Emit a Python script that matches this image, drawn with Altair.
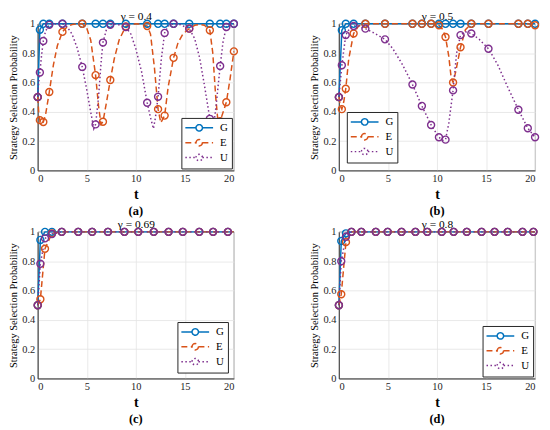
import altair as alt
import pandas as pd

SERIES = ["G", "E", "U"]
COLORS = ["#0072BD", "#D95319", "#7E2F8E"]
DASHES = [[1, 0], [6, 3.5], [1.5, 2.5]]
X_TICKS = [0, 5, 10, 15, 20]
Y_TICKS = [0, 0.2, 0.4, 0.6, 0.8, 1.0]
FONT = "Liberation Serif"

# ---------------- panel (a): gamma = 0.4 ----------------
a_mark_t = [0, 0.22, 0.57, 1.18, 2.52, 4.54, 5.9, 6.65, 7.4, 8.98, 11.16, 12.27, 12.94, 13.85, 15.45, 17.55, 18.6, 19.23, 20]
a_mark_G = [0.5, 0.96, 1.0, 1.0, 1.0, 1.0, 1.0, 1.0, 1.0, 1.0, 1.0, 1.0, 1.0, 1.0, 1.0, 1.0, 1.0, 1.0, 1.0]
a_mark_E = [0.5, 0.343, 0.33, 0.535, 0.945, 1.0, 0.65, 0.332, 0.617, 0.982, 0.985, 0.418, 0.374, 0.768, 0.967, 0.956, 0.336, 0.465, 0.812]
a_mark_U = [0.5, 0.668, 0.883, 0.993, 1.0, 0.706, 0.314, 0.872, 0.993, 0.978, 0.462, 0.502, 0.938, 1.0, 0.967, 0.352, 0.712, 0.978, 1.0]

a_G_t = [0, 0.22, 0.57, 20]
a_G = [0.5, 0.96, 1.0, 1.0]
a_E_t = [0, 0.1, 0.22, 0.4, 0.57, 0.8, 1.18, 1.6, 2.0, 2.52, 3.0, 3.5, 4.0, 4.54, 5.0, 5.4, 5.9, 6.2, 6.45, 6.65,
         7.0, 7.4, 7.8, 8.3, 8.98, 9.5, 10.0, 10.5, 11.16, 11.5, 11.9, 12.27, 12.55, 12.94, 13.3, 13.85, 14.3, 14.8,
         15.45, 16.0, 16.5, 17.0, 17.55, 17.85, 18.15, 18.4, 18.6, 19.23, 19.6, 20]
a_E = [0.5, 0.40, 0.343, 0.32, 0.33, 0.38, 0.535, 0.72, 0.85, 0.945, 0.98, 0.995, 1.0, 1.0, 0.97, 0.89, 0.65, 0.44,
       0.315, 0.332, 0.46, 0.617, 0.76, 0.89, 0.982, 0.995, 1.0, 0.998, 0.985, 0.93, 0.7, 0.418, 0.325, 0.374, 0.57,
       0.768, 0.87, 0.93, 0.967, 0.99, 0.995, 0.99, 0.956, 0.8, 0.5, 0.315, 0.336, 0.465, 0.62, 0.812]
a_U_t = [0, 0.1, 0.22, 0.4, 0.57, 0.8, 1.18, 1.8, 2.52, 3.0, 3.5, 4.0, 4.54, 5.0, 5.4, 5.72, 5.9, 6.2, 6.45, 6.65,
         7.0, 7.4, 8.0, 8.98, 9.5, 10.0, 10.6, 11.16, 11.5, 11.8, 12.0, 12.27, 12.6, 12.94, 13.3, 13.85, 14.5, 15.45,
         16.0, 16.5, 17.0, 17.55, 17.9, 18.2, 18.6, 18.9, 19.23, 19.6, 20]
a_U = [0.5, 0.6, 0.668, 0.79, 0.883, 0.95, 0.993, 1.0, 1.0, 0.98, 0.93, 0.84, 0.706, 0.55, 0.40, 0.285, 0.314, 0.5,
       0.73, 0.872, 0.96, 0.993, 1.0, 0.978, 0.93, 0.83, 0.67, 0.462, 0.36, 0.285, 0.36, 0.502, 0.76, 0.938, 0.985,
       1.0, 0.995, 0.967, 0.9, 0.77, 0.58, 0.352, 0.28, 0.45, 0.712, 0.88, 0.978, 0.995, 1.0]

# ---------------- panel (b): gamma = 0.5 ----------------
b_mark_t = [0, 0.3, 0.7, 1.5, 2.7, 4.7, 7.5, 8.46, 9.4, 10.2, 10.87, 11.64, 12.4, 13.5, 15.25, 18.3, 19.26, 20]
b_mark_G = [0.5, 0.956, 1.0, 1.0, 1.0, 1.0, 1.0, 1.0, 1.0, 1.0, 1.0, 1.0, 1.0, 1.0, 1.0, 1.0, 1.0, 1.0]
b_mark_E = [0.5, 0.418, 0.557, 0.934, 1.0, 1.0, 1.0, 1.0, 1.0, 0.99, 0.91, 0.60, 0.84, 1.0, 1.0, 1.0, 1.0, 0.99]
b_mark_U = [0.5, 0.717, 0.923, 0.985, 0.967, 0.894, 0.586, 0.44, 0.31, 0.226, 0.21, 0.546, 0.923, 0.934, 0.83, 0.414, 0.288, 0.226]

b_G_t = [0, 0.3, 0.7, 20]
b_G = [0.5, 0.956, 1.0, 1.0]
b_E_t = [0, 0.15, 0.3, 0.5, 0.7, 1.0, 1.5, 2.0, 2.7, 10.0, 10.2, 10.6, 10.87, 11.2, 11.45, 11.64, 11.9, 12.4, 12.9, 13.5, 19.26, 20]
b_E = [0.5, 0.44, 0.418, 0.47, 0.557, 0.76, 0.934, 0.985, 1.0, 1.0, 0.99, 0.96, 0.91, 0.78, 0.63, 0.60, 0.67, 0.84, 0.96, 1.0, 1.0, 0.99]
b_U_t = [0, 0.3, 0.7, 1.1, 1.5, 2.0, 2.7, 3.5, 4.7, 5.5, 6.5, 7.5, 8.46, 9.4, 10.2, 10.6, 10.87, 11.2, 11.64, 12.0,
         12.4, 12.9, 13.5, 14.3, 15.25, 16.2, 17.2, 18.3, 19.26, 20]
b_U = [0.5, 0.717, 0.923, 0.97, 0.985, 0.985, 0.967, 0.94, 0.894, 0.83, 0.72, 0.586, 0.44, 0.31, 0.226, 0.205, 0.21,
       0.32, 0.546, 0.8, 0.923, 0.945, 0.934, 0.895, 0.83, 0.72, 0.57, 0.414, 0.288, 0.226]

# ---------------- panel (c): gamma = 0.69 ----------------
c_mark_t = [0, 0.27, 0.74, 1.45, 2.45, 4.13, 5.55, 7.16, 8.84, 10.25, 11.83, 13.34, 14.79, 16.47, 17.88, 19.39]
c_mark_G = [0.5, 0.945, 1.0, 1.0, 1.0, 1.0, 1.0, 1.0, 1.0, 1.0, 1.0, 1.0, 1.0, 1.0, 1.0, 1.0]
c_mark_E = [0.5, 0.54, 0.885, 0.99, 1.0, 1.0, 1.0, 1.0, 1.0, 1.0, 1.0, 1.0, 1.0, 1.0, 1.0, 1.0]
c_mark_U = [0.5, 0.783, 0.956, 0.985, 1.0, 1.0, 1.0, 1.0, 1.0, 1.0, 1.0, 1.0, 1.0, 1.0, 1.0, 1.0]

c_G_t = [0, 0.27, 0.74, 1.45, 20]
c_G = [0.5, 0.945, 1.0, 1.0, 1.0]
c_E_t = [0, 0.27, 0.74, 1.45, 2.45, 20]
c_E = [0.5, 0.54, 0.885, 0.99, 1.0, 1.0]
c_U_t = [0, 0.27, 0.74, 1.45, 2.45, 20]
c_U = [0.5, 0.783, 0.956, 0.985, 1.0, 1.0]

# ---------------- panel (d): gamma = 0.8 ----------------
d_mark_t = [0, 0.24, 0.72, 1.28, 2.29, 3.76, 4.97, 6.39, 7.8, 9.01, 10.49, 11.7, 13.04, 14.55, 15.87, 17.21, 18.72, 19.83]
d_mark_G = [0.5, 0.938, 0.99, 1.0, 1.0, 1.0, 1.0, 1.0, 1.0, 1.0, 1.0, 1.0, 1.0, 1.0, 1.0, 1.0, 1.0, 1.0]
d_mark_E = [0.5, 0.575, 0.93, 1.0, 1.0, 1.0, 1.0, 1.0, 1.0, 1.0, 1.0, 1.0, 1.0, 1.0, 1.0, 1.0, 1.0, 1.0]
d_mark_U = [0.5, 0.80, 0.967, 1.0, 1.0, 1.0, 1.0, 1.0, 1.0, 1.0, 1.0, 1.0, 1.0, 1.0, 1.0, 1.0, 1.0, 1.0]

d_G_t = [0, 0.24, 0.72, 1.28, 20]
d_G = [0.5, 0.938, 0.99, 1.0, 1.0]
d_E_t = [0, 0.24, 0.72, 1.28, 20]
d_E = [0.5, 0.575, 0.93, 1.0, 1.0]
d_U_t = [0, 0.24, 0.72, 1.28, 20]
d_U = [0.5, 0.80, 0.967, 1.0, 1.0]

W, H = 198, 148
# legend glyph: a hollow circle marker with a short line through it
SYM = "M-0.65,0A0.65,0.65,0,1,1,0.65,0A0.65,0.65,0,1,1,-0.65,0ZM-2.8,0L-0.65,0M0.65,0L2.8,0"


def lines_df(parts):
    rows = []
    for s, ts, ps in parts:
        for t, p in zip(ts, ps):
            rows.append({"s": s, "t": t, "p": p})
    return pd.DataFrame(rows)


def marks_df(ts, g, e, u):
    return lines_df([("G", ts, g), ("E", ts, e), ("U", ts, u)])


def panel(ldf, mdf, gamma, tag, orient, offset):
    leg = alt.Legend(title=None, orient=orient, offset=offset, symbolType=SYM, symbolSize=100,
                     symbolStrokeWidth=1.5, symbolFillColor="transparent", symbolOffset=8, labelOffset=15,
                     labelFont=FONT, labelFontSize=11, labelColor="#000000", rowPadding=1,
                     padding=4, strokeColor="#262626", fillColor="white", cornerRadius=0)
    cscale = alt.Scale(domain=SERIES, range=COLORS)
    xscale = alt.Scale(domain=[0, 20], nice=False)
    x_bottom = alt.X("t:Q", scale=xscale,
                     axis=alt.Axis(values=X_TICKS, title="t", titleFontWeight="bold", titleFontSize=14,
                                   titlePadding=4, labelPadding=3))
    x_top = alt.X("t:Q", scale=xscale,
                  axis=alt.Axis(orient="top", title=gamma, labels=False, ticks=False, domain=False, grid=False,
                                titleFontWeight="normal", titleFontSize=11.5, titlePadding=2))
    y = alt.Y("p:Q", scale=alt.Scale(domain=[0, 1], nice=False),
              axis=alt.Axis(values=Y_TICKS, format="~g", title="Strategy Selection Probability",
                            titleFontWeight="normal", titleFontSize=10.5, titlePadding=3, labelPadding=3))
    ln = alt.Chart(ldf).mark_line(strokeWidth=1.5).encode(
        x=x_bottom, y=y,
        color=alt.Color("s:N", scale=cscale, legend=leg),
        strokeDash=alt.StrokeDash("s:N", scale=alt.Scale(domain=SERIES, range=DASHES), legend=leg),
        order=alt.Order("t:Q"),
    )
    pt = alt.Chart(mdf).mark_point(shape="circle", filled=False, size=50, strokeWidth=1.4, opacity=1).encode(
        x=x_top, y=y, color=alt.Color("s:N", scale=cscale, legend=leg)
    )
    return alt.layer(ln, pt).resolve_axis(x="independent").properties(
        width=W, height=H,
        title=alt.TitleParams(tag, orient="bottom", font=FONT, fontSize=12.5, fontWeight="bold", offset=3,
                              color="#000000"),
    )


pa = panel(lines_df([("G", a_G_t, a_G), ("E", a_E_t, a_E), ("U", a_U_t, a_U)]),
           marks_df(a_mark_t, a_mark_G, a_mark_E, a_mark_U), "γ = 0.4", "(a)", "bottom-right", 2)
pb = panel(lines_df([("G", b_G_t, b_G), ("E", b_E_t, b_E), ("U", b_U_t, b_U)]),
           marks_df(b_mark_t, b_mark_G, b_mark_E, b_mark_U), "γ = 0.5", "(b)", "bottom-left", 8)
pc = panel(lines_df([("G", c_G_t, c_G), ("E", c_E_t, c_E), ("U", c_U_t, c_U)]),
           marks_df(c_mark_t, c_mark_G, c_mark_E, c_mark_U), "γ = 0.69", "(c)", "bottom-right", 6)
pd_ = panel(lines_df([("G", d_G_t, d_G), ("E", d_E_t, d_E), ("U", d_U_t, d_U)]),
            marks_df(d_mark_t, d_mark_G, d_mark_E, d_mark_U), "γ = 0.8", "(d)", "bottom-right", 2)


def row(c1, c2):
    return alt.hconcat(c1, c2, spacing=106, bounds="flush").resolve_scale(
        color="independent", strokeDash="independent").resolve_legend(
        color="independent", strokeDash="independent")


chart = alt.vconcat(row(pa, pb), row(pc, pd_), spacing=0).resolve_scale(
    color="independent", strokeDash="independent").resolve_legend(
    color="independent", strokeDash="independent").properties(padding=0)

chart = chart.configure_view(stroke="#555555", strokeWidth=0.8).configure_axis(
    labelFont=FONT, labelFontSize=10.5, labelColor="#262626", titleFont=FONT, titleColor="#000000",
    gridColor="#e3e3e3", gridWidth=0.8, domainColor="#262626", domainWidth=0.8, ticks=False,
)

chart.save("out.html", embed_options={"renderer": "svg", "actions": False})
